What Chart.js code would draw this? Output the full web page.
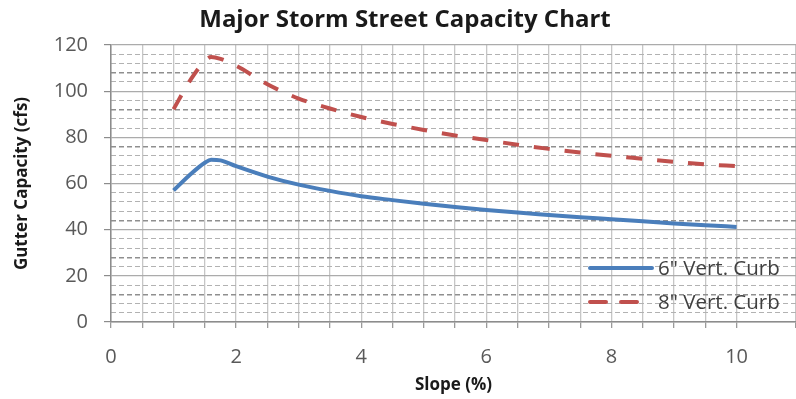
<!DOCTYPE html>
<html>
<head>
<meta charset="utf-8">
<script src="https://cdn.jsdelivr.net/npm/chart.js@4/dist/chart.umd.min.js"></script>
<style>
  html, body { margin: 0; padding: 0; background: #fff; }
  #wrap { width: 796px; height: 399px; }
</style>
</head>
<body>
<div id="wrap"><canvas id="chart" width="796" height="399"></canvas></div>
<script>
// Slope (%) sample points
const slopes = [1, 1.25, 1.5, 1.6, 1.75, 2, 2.5, 3, 3.5, 4, 4.5, 5, 5.5, 6, 6.5, 7, 7.5, 8, 8.5, 9, 9.5, 10];

// Gutter capacity (cfs)
const curb6 = [57, 63.5, 69, 70.3, 70, 67.5, 63, 59.5, 56.8, 54.5, 52.8, 51.2, 49.8, 48.5, 47.4, 46.4, 45.4, 44.5, 43.6, 42.7, 41.9, 41.2];
const curb8 = [92.2, 104, 113, 114.8, 114, 111, 103, 96.8, 92.5, 88.8, 85.8, 83.2, 80.8, 78.8, 76.8, 75, 73.4, 72, 70.7, 69.4, 68.3, 67.5];

const seriesNames = ['6" Vert. Curb', '8" Vert. Curb'];
const chartTitle = "Major Storm Street Capacity Chart";

const font = "'Open Sans', 'DejaVu Sans', sans-serif";

function toPoints(xs, ys) {
  return xs.map((x, i) => ({ x: x, y: ys[i] }));
}

// Draw title and in-plot legend
const overlay = {
  id: "overlay",
  afterDraw(chart) {
    const ctx = chart.ctx;
    ctx.save();
    ctx.fillStyle = "#1a1a1a";
    ctx.font = "bold 24px " + font;
    ctx.textAlign = "center";
    ctx.textBaseline = "middle";
    ctx.fillText(chartTitle, 405, 20);

    // legend
    ctx.font = "20.5px " + font;
    ctx.textAlign = "left";
    const rows = [268, 302];
    chart.data.datasets.forEach((ds, i) => {
      const y = rows[i];
      ctx.beginPath();
      ctx.strokeStyle = ds.borderColor;
      ctx.lineWidth = 4;
      ctx.lineCap = "round";
      ctx.setLineDash(ds.borderDash || []);
      ctx.moveTo(590, y);
      ctx.lineTo(652, y);
      ctx.stroke();
      ctx.setLineDash([]);
      ctx.fillStyle = "#404040";
      ctx.fillText(ds.label, 658, y + 1);
    });
    ctx.restore();
  },
};

new Chart(document.getElementById("chart"), {
  type: "scatter",
  data: {
    datasets: [
      {
        label: seriesNames[0],
        data: toPoints(slopes, curb6),
        showLine: true,
        borderColor: "#4a7ebb",
        borderWidth: 4,
        pointRadius: 0,
        cubicInterpolationMode: "monotone",
      },
      {
        label: seriesNames[1],
        data: toPoints(slopes, curb8),
        showLine: true,
        borderColor: "#c0504d",
        borderWidth: 4,
        borderDash: [16, 15],
        pointRadius: 0,
        cubicInterpolationMode: "monotone",
      },
    ],
  },
  options: {
    responsive: false,
    animation: false,
    layout: { padding: { top: 45, right: 0, left: 0, bottom: 0 } },
    plugins: {
      legend: { display: false },
      title: { display: false },
      tooltip: { enabled: false },
    },
    scales: {
      x: {
        type: "linear",
        min: 0,
        max: 10.95,
        afterFit: (s) => {
          s.height = 77;
          s.paddingRight = 0;
        },
        ticks: {
          stepSize: 0.5,
          autoSkip: false,
          maxRotation: 0,
          padding: 17,
          color: "#595959",
          font: { family: font, size: 20 },
          callback: (v) => (Math.abs(v % 2) < 1e-9 ? v : ""),
        },
        grid: {
          color: "#c6c6c6",
          lineWidth: 1.3,
          tickLength: 6,
          tickColor: "#9a9a9a",
        },
        border: { color: "#8c8c8c", width: 1.5 },
        title: {
          display: true,
          text: "Slope (%)",
          color: "#1a1a1a",
          font: { family: font, size: 17, weight: "bold" },
          padding: { top: 0, bottom: 4 },
        },
      },
      y: {
        min: 0,
        max: 120,
        afterFit: (s) => { s.width = 111; },
        ticks: {
          stepSize: 20,
          padding: 16,
          color: "#595959",
          font: { family: font, size: 20 },
        },
        grid: {
          color: "#ababab",
          lineWidth: 1.2,
          tickLength: 7,
          tickColor: "#8c8c8c",
        },
        border: { color: "#8c8c8c", width: 1.5 },
        title: {
          display: true,
          text: "Gutter Capacity (cfs)",
          color: "#1a1a1a",
          font: { family: font, size: 17, weight: "bold" },
          padding: { top: 12, bottom: 0 },
        },
      },
      yMinor: {
        position: "left",
        min: 0,
        max: 120,
        afterFit: (s) => { s.width = 0; },
        ticks: { display: false, stepSize: 4 },
        grid: {
          drawTicks: false,
          color: (c) => {
            const v = c.tick.value;
            if (v % 20 === 0) return "rgba(0,0,0,0)";
            return v % 16 === 12 ? "#8f8f8f" : "#b2b2b2";
          },
          lineWidth: (c) => (c.tick.value % 16 === 12 ? 1.6 : 1),
        },
        border: { display: false, dash: [5, 3] },
      },
    },
  },
  plugins: [overlay],
});
</script>
</body>
</html>
